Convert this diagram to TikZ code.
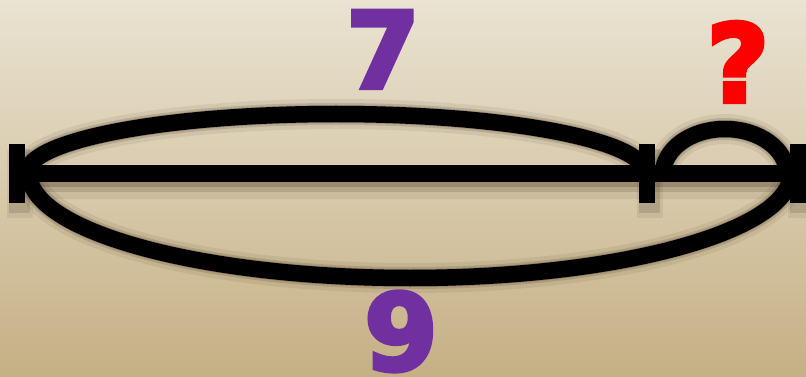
\documentclass[tikz,border=0pt]{standalone}
\usepackage{fontspec}
\newfontfamily\digitfont{DejaVu Sans}[UprightFont=* Bold, FakeBold=4]
\definecolor{bgtop}{RGB}{234,227,210}
\definecolor{bgbot}{RGB}{197,176,132}
\definecolor{numpurple}{RGB}{112,48,160}
\definecolor{qred}{RGB}{255,0,0}
\definecolor{shadowc}{RGB}{60,40,20}
\tikzset{
  stroke/.style={line width=16.5pt, black},
  tickbox/.style={draw=none, fill=black, minimum width=16pt, minimum height=59pt, inner sep=0pt},
  numlabel/.style={font=\digitfont\fontsize{106}{106}\selectfont, text=numpurple, inner sep=0pt, anchor=base, text depth=0pt},
  qlabel/.style={font=\digitfont\fontsize{108}{108}\selectfont, text=qred, inner sep=0pt, anchor=base},
}
\newcommand\figcurves[1]{%
  \draw[#1] (t1.center) -- (t3.center);
  \draw[#1] (ua) arc[start angle=180, end angle=360, x radius=309, y radius=59];
  \draw[#1] (la) arc[start angle=180, end angle=0, x radius=381, y radius=105];
  \draw[#1] (sa) arc[start angle=180, end angle=360, x radius=62, y radius=45];
}
\begin{document}
\begin{tikzpicture}[x=1pt, y=-1pt]
  \useasboundingbox (0,0) rectangle (806,377);
  \shade[top color=bgtop, bottom color=bgbot] (0,0) rectangle (806,377);
  % anchor points
  \coordinate (ua) at (27,173);
  \coordinate (la) at (29,173);
  \coordinate (sa) at (663,174);
  % shadows
  \begin{scope}[shift={(3,10)}, opacity=0.08]
    \node[tickbox, fill=shadowc, minimum width=26pt, minimum height=68pt] (s1) at (17,174) {};
    \node[tickbox, fill=shadowc, minimum width=26pt, minimum height=68pt] (s2) at (647,174) {};
    \node[tickbox, fill=shadowc, minimum width=26pt, minimum height=68pt] (s3) at (798,174) {};
    \coordinate (t1) at (17,174);
    \coordinate (t3) at (798,174);
    \figcurves{line width=30pt, shadowc}
  \end{scope}
  \begin{scope}[shift={(2,7)}, opacity=0.16]
    \node[tickbox, fill=shadowc, minimum width=21pt, minimum height=63pt] (r1) at (17,174) {};
    \node[tickbox, fill=shadowc, minimum width=21pt, minimum height=63pt] (r2) at (647,174) {};
    \node[tickbox, fill=shadowc, minimum width=21pt, minimum height=63pt] (r3) at (798,174) {};
    \coordinate (t1) at (17,174);
    \coordinate (t3) at (798,174);
    \figcurves{line width=22pt, shadowc}
  \end{scope}
  \begin{scope}[shift={(1,4)}, opacity=0.22]
    \coordinate (t1) at (17,174);
    \coordinate (t3) at (798,174);
    \figcurves{line width=18pt, shadowc}
  \end{scope}
  % main drawing
  \node[tickbox] (t1) at (17,173.5) {};
  \node[tickbox] (t2) at (647,173.5) {};
  \node[tickbox] (t3) at (798,173.5) {};
  \figcurves{stroke}
  % labels
  \node[numlabel] (seven) at (383,88) {7};
  \node[numlabel] (nine) at (401,370) {9};
  \node[qlabel] (qm) at (738,102) {?};
\end{tikzpicture}
\end{document}
